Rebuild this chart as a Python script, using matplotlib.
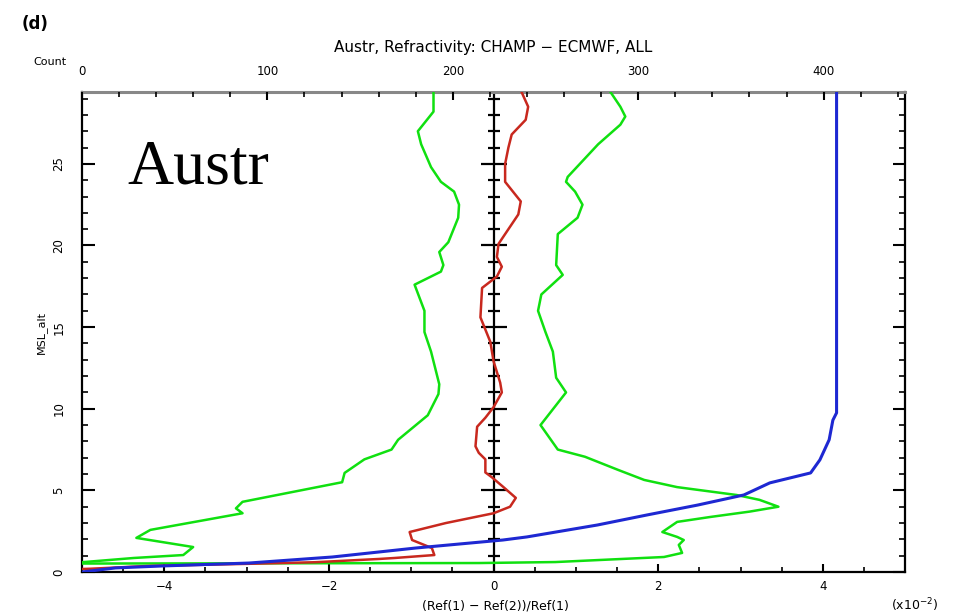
import numpy as np
import matplotlib
matplotlib.use("Agg")
import matplotlib.pyplot as plt
from matplotlib.ticker import MultipleLocator

# ---- data ----
# Count profile (top axis): count vs altitude
count_alt = [0, 0.25, 0.37, 0.55, 0.92, 1.47, 1.96, 2.15, 2.88, 3.5, 4.1, 4.72,
             5.46, 6.07, 6.87, 8.1, 9.3, 9.75, 29.4]
count_val = [0, 18, 43, 90, 135, 180, 227, 240, 278, 305, 332, 357,
             371, 393, 398, 403, 405, 407, 407]

# Mean fractional difference (red)
mean_alt = [0.1, 0.2, 0.37, 0.5, 0.6, 0.8, 0.86, 1.04, 1.47, 1.96, 2.45, 3.0, 3.6,
            4.0, 4.54, 5.2, 5.8, 6.1, 6.9, 7.3, 7.7, 8.9, 9.45, 10.1, 11.0, 11.6,
            12.9, 14.1, 15.6, 17.4, 18.1, 18.7, 19.3, 20.1, 21.9, 22.7, 23.9,
            25.0, 26.0, 26.8, 27.7, 28.5, 29.4]
mean_val = [-5.6, -4.9, -4.2, -3.0, -2.17, -1.39, -1.2, -0.72, -0.75, -0.99, -1.02,
            -0.58, 0.0, 0.20, 0.27, 0.12, -0.02, -0.10, -0.10, -0.18, -0.22, -0.20,
            -0.10, 0.0, 0.10, 0.08, 0.0, -0.04, -0.16, -0.14, 0.04, 0.10, 0.04,
            0.06, 0.30, 0.33, 0.14, 0.14, 0.18, 0.22, 0.39, 0.42, 0.34]

# Mean - std (left green)
lo_alt = [0.5, 0.6, 0.86, 1.04, 1.53, 2.09, 2.58, 3.6, 3.9, 4.3, 5.5, 6.07, 6.9,
          7.5, 8.1, 8.6, 9.6, 10.9, 11.5, 12.3, 13.5, 14.7, 16.0, 16.8, 17.6,
          18.4, 18.8, 19.6, 20.2, 21.7, 22.5, 23.3, 23.9, 24.8, 26.2, 27.0, 28.2, 29.4]
lo_val = [-8.0, -5.0, -4.37, -3.77, -3.65, -4.34, -4.17, -3.05, -3.13, -3.05,
          -1.84, -1.81, -1.57, -1.24, -1.16, -1.04, -0.80, -0.67, -0.66, -0.70,
          -0.76, -0.84, -0.84, -0.90, -0.96, -0.64, -0.61, -0.66, -0.55, -0.43,
          -0.42, -0.48, -0.64, -0.76, -0.88, -0.92, -0.73, -0.73]

# Mean + std (right green)
hi_alt = [0.5, 0.55, 0.61, 0.92, 1.17, 1.66, 1.96, 2.15, 2.45, 3.07, 3.37, 3.7,
          4.0, 4.42, 4.72, 5.2, 5.64, 6.26, 7.06, 7.5, 9.0, 11.0, 11.9, 13.5,
          14.7, 16.0, 17.0, 18.2, 18.8, 20.7, 21.7, 22.5, 23.3, 23.9, 24.2, 26.2,
          27.4, 27.9, 28.5, 29.4]
hi_val = [-8.0, -0.18, 0.75, 2.07, 2.29, 2.25, 2.31, 2.23, 2.05, 2.23, 2.63, 3.11,
          3.46, 3.23, 2.95, 2.23, 1.83, 1.51, 1.11, 0.78, 0.57, 0.88, 0.76, 0.72,
          0.63, 0.54, 0.58, 0.84, 0.76, 0.78, 1.02, 1.08, 0.99, 0.88, 0.90, 1.27,
          1.54, 1.60, 1.54, 1.42]

x_ticks = [-4, -2, 0, 2, 4]
count_ticks = [0, 100, 200, 300, 400]
alt_ticks = [0, 5, 10, 15, 20, 25]

GREEN = "#10e010"
RED = "#c8281e"
BLUE = "#1e28d2"

fig = plt.figure(figsize=(9.65, 6.16), dpi=100)
ax = fig.add_axes([0.085, 0.0714, 0.853, 0.7792])
ax.set_xlim(-5, 5)
ax.set_ylim(0, 29.4)

ax.plot(lo_val, lo_alt, color=GREEN, lw=1.8, zorder=3)
ax.plot(hi_val, hi_alt, color=GREEN, lw=1.8, zorder=3)
ax.plot(mean_val, mean_alt, color=RED, lw=1.8, zorder=4)

# zero axis with ticks
ax.axvline(0, color="black", lw=1.6, zorder=2)
minor_y = np.arange(1, 30, 1)
major_y = [v for v in minor_y if v % 5 == 0]
minor_only = [v for v in minor_y if v % 5 != 0]
ax.plot([0] * len(minor_only), minor_only, ls="none", marker="_",
        markersize=9, mew=1.6, color="black", zorder=2)
ax.plot([0] * len(major_y), major_y, ls="none", marker="_",
        markersize=19, mew=1.6, color="black", zorder=2)

ax.set_xticks(x_ticks)
ax.set_xticklabels(["\u22124", "\u22122", "0", "2", "4"])
ax.xaxis.set_minor_locator(MultipleLocator(0.5))
ax.set_yticks(alt_ticks)
ax.yaxis.set_minor_locator(MultipleLocator(1))
ax.tick_params(axis="both", which="both", direction="in", color="black",
               labelsize=8.5)
ax.tick_params(axis="x", which="major", length=6, width=1.5, pad=6)
ax.tick_params(axis="x", which="minor", length=3.5, width=1.2)
ax.tick_params(axis="y", which="major", length=9, width=1.5, right=True, pad=12)
ax.tick_params(axis="y", which="minor", length=4.5, width=1.2, right=True)
ax.tick_params(axis="x", top=False, which="both")
for lab in ax.get_yticklabels():
    lab.set_rotation(90)
    lab.set_va("center")
for s in ax.spines.values():
    s.set_linewidth(1.6)
    s.set_color("black")
ax.spines["top"].set_color("#888888")
ax.spines["top"].set_linewidth(2.2)

ax2 = ax.twiny()
ax2.set_xlim(0, 444)
ax2.plot(count_val, count_alt, color=BLUE, lw=2.2, zorder=5)
ax2.set_xticks(count_ticks)
ax2.xaxis.set_minor_locator(MultipleLocator(20))
ax2.tick_params(axis="x", which="major", direction="in", length=6, width=1.5,
                labelsize=8.5, pad=10)
ax2.tick_params(axis="x", which="minor", direction="in", length=3.5, width=1.2)
for s in ax2.spines.values():
    s.set_visible(False)

ax.set_ylabel("MSL_alt", fontsize=8, labelpad=4)

fig.text(0.022, 0.975, "(d)", fontsize=12, fontweight="bold", va="top", ha="left")
fig.text(0.511, 0.923, "Austr, Refractivity: CHAMP \u2212 ECMWF, ALL",
         fontsize=11, ha="center", va="center")
fig.text(0.052, 0.899, "Count", fontsize=8, ha="center", va="center")
fig.text(0.513, 0.016, "(Ref(1) \u2212 Ref(2))/Ref(1)", fontsize=9,
         ha="center", va="center")
fig.text(0.948, 0.018, r"(x10$^{-2}$)", fontsize=9, ha="center", va="center")
ax.text(0.055, 0.84, "Austr", transform=ax.transAxes, fontsize=46,
        family=["Liberation Serif", "DejaVu Serif"], ha="left", va="center")

fig.savefig("out.png", dpi=100)
